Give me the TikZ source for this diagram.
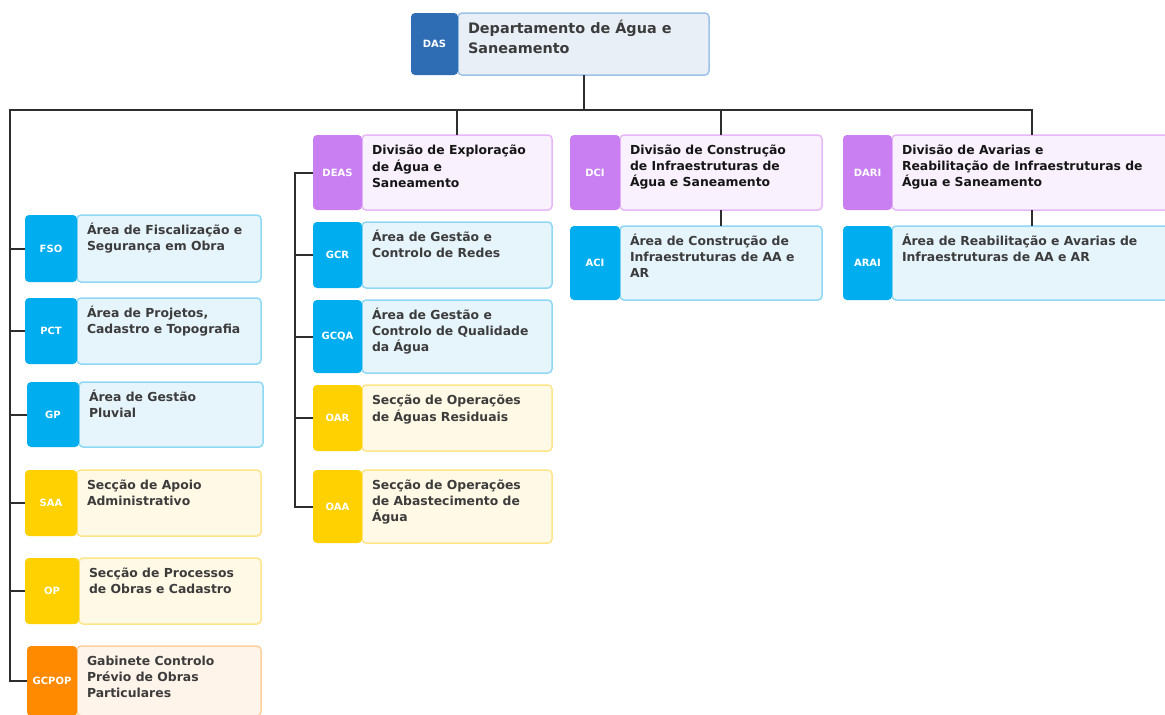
\documentclass[tikz,border=0pt]{standalone}
\usepackage{fontspec}
\setmainfont{DejaVu Sans}
\definecolor{linec}{HTML}{2E2E2E}
\definecolor{tagdas}{HTML}{2E6DB4}
\definecolor{filldas}{HTML}{E9EFF7}
\definecolor{edgedas}{HTML}{9FC2E8}
\definecolor{tagblue}{HTML}{00AEEF}
\definecolor{fillblue}{HTML}{E6F5FC}
\definecolor{edgeblue}{HTML}{8FD8F5}
\definecolor{tagyel}{HTML}{FFD100}
\definecolor{fillyel}{HTML}{FFF9E5}
\definecolor{edgeyel}{HTML}{FFE58A}
\definecolor{tagora}{HTML}{FF8A00}
\definecolor{fillora}{HTML}{FFF4EA}
\definecolor{edgeora}{HTML}{FFCF9C}
\definecolor{tagpur}{HTML}{C97FF2}
\definecolor{fillpur}{HTML}{FAF1FE}
\definecolor{edgepur}{HTML}{E6B8F7}
\definecolor{txtgray}{HTML}{3C3C3C}
\definecolor{txtdark}{HTML}{161616}
\tikzset{
  conn/.style={draw=linec, line width=2pt},
  tagbase/.style={rectangle, rounded corners=4pt, inner sep=0pt, outer sep=0pt, anchor=north west, text=white, font=\bfseries\fontsize{10}{12}\selectfont},
  bodybase/.style={rectangle, rounded corners=4pt, inner sep=0pt, outer sep=0pt, anchor=north west, line width=1.5pt},
  txtbase/.style={inner sep=0pt, outer sep=0pt, anchor=north west, align=left, font=\bfseries\fontsize{12.4}{16}\selectfont},
  tag-das/.style={tagbase, fill=tagdas},
  body-das/.style={bodybase, fill=filldas, draw=edgedas},
  txt-das/.style={txtbase, text=txtgray, font=\bfseries\fontsize{14.4}{20}\selectfont, yshift=2pt},
  tag-blue/.style={tagbase, fill=tagblue},
  body-blue/.style={bodybase, fill=fillblue, draw=edgeblue},
  txt-blue/.style={txtbase, text=txtgray},
  tag-yel/.style={tagbase, fill=tagyel},
  body-yel/.style={bodybase, fill=fillyel, draw=edgeyel},
  txt-yel/.style={txtbase, text=txtgray},
  tag-ora/.style={tagbase, fill=tagora},
  body-ora/.style={bodybase, fill=fillora, draw=edgeora},
  txt-ora/.style={txtbase, text=txtgray},
  tag-pur/.style={tagbase, fill=tagpur},
  body-pur/.style={bodybase, fill=fillpur, draw=edgepur},
  txt-pur/.style={txtbase, text=txtdark},
}
\newcommand\orgunit[9]{%
  \node[body-#7, minimum width={(#4)-(#3)}, minimum height={(#6)-(#5)}] (#1) at (#3,#5) {};
  \node[tag-#7, minimum width={(#3)-(#2)}, minimum height={(#6)-(#5)}] (#1t) at (#2,#5) {#8};
  \node[txt-#7] (#1x) at ([shift={(10,8)}]#1.north west) {\strut #9};
}
\begin{document}
\begin{tikzpicture}[x=1pt,y=-1pt]
\useasboundingbox (0,0) rectangle (1165,715);
\clip (0,0) rectangle (1165,715);
\fill[white] (0,0) rectangle (1165,715);

\orgunit{das}{411}{458}{709}{13}{75}{das}{DAS}{Departamento de Água e\\Saneamento}

\orgunit{fso}{25}{77}{261}{215}{282}{blue}{FSO}{Área de Fiscalização e\\Segurança em Obra}
\orgunit{pct}{25}{77}{261}{298}{364}{blue}{PCT}{Área de Projetos,\\Cadastro e Topografia}
\orgunit{gp}{27}{79}{263}{382}{447}{blue}{GP}{Área de Gestão\\Pluvial}
\orgunit{saa}{25}{77}{261}{470}{536}{yel}{SAA}{Secção de Apoio\\Administrativo}
\orgunit{op}{25}{79}{261}{558}{624}{yel}{OP}{Secção de Processos\\de Obras e Cadastro}
\orgunit{gcpop}{27}{77}{261}{646}{716}{ora}{GCPOP}{Gabinete Controlo\\Prévio de Obras\\Particulares}

\orgunit{deas}{313}{362}{552}{135}{210}{pur}{DEAS}{Divisão de Exploração\\de Água e\\Saneamento}
\orgunit{gcr}{313}{362}{552}{222}{288}{blue}{GCR}{Área de Gestão e\\Controlo de Redes}
\orgunit{gcqa}{313}{362}{552}{300}{373}{blue}{GCQA}{Área de Gestão e\\Controlo de Qualidade\\da Água}
\orgunit{oar}{313}{362}{552}{385}{451}{yel}{OAR}{Secção de Operações\\de Águas Residuais}
\orgunit{oaa}{313}{362}{552}{470}{543}{yel}{OAA}{Secção de Operações\\de Abastecimento de\\Água}

\orgunit{dci}{570}{620}{822}{135}{210}{pur}{DCI}{Divisão de Construção\\de Infraestruturas de\\Água e Saneamento}
\orgunit{aci}{570}{620}{822}{226}{300}{blue}{ACI}{Área de Construção de\\Infraestruturas de AA e\\AR}

\orgunit{dari}{843}{892}{1172}{135}{210}{pur}{DARI}{Divisão de Avarias e\\Reabilitação de Infraestruturas de\\Água e Saneamento}
\orgunit{arai}{843}{892}{1172}{226}{300}{blue}{ARAI}{Área de Reabilitação e Avarias de\\Infraestruturas de AA e AR}

\coordinate (busL) at (10,110);
\coordinate (v2) at (295,0);
\draw[conn] (das.south) -- (das.south |- busL);
\draw[conn] (gcpopt.west) -| (busL) -- (dari.north |- busL) -- (dari.north);
\draw[conn] (deas.north |- busL) -- (deas.north);
\draw[conn] (dci.north |- busL) -- (dci.north);
\foreach \n in {fso,pct,gp,saa,op}
  \draw[conn] (busL |- \n t.west) -- (\n t.west);
\draw[conn] (deast.west) -- (deast.west -| v2) |- (oaat.west);
\foreach \n in {gcr,gcqa,oar}
  \draw[conn] (v2 |- \n t.west) -- (\n t.west);
\draw[conn] (dci.south) -- (aci.north);
\draw[conn] (dari.south) -- (arai.north);
\end{tikzpicture}
\end{document}
